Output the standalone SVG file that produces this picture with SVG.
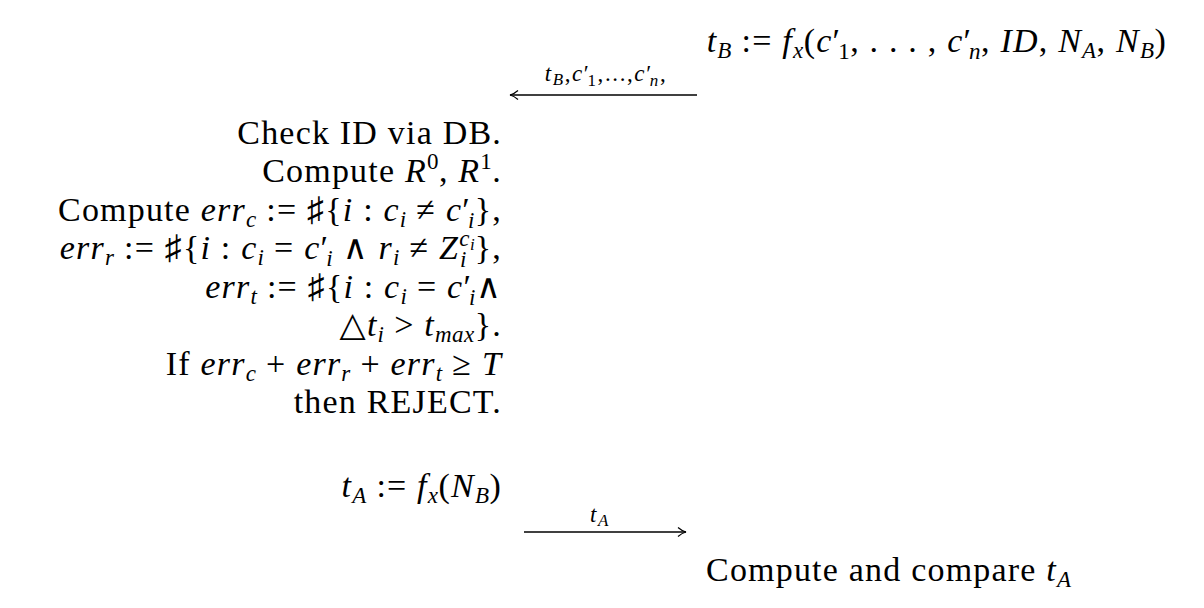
<svg xmlns="http://www.w3.org/2000/svg" width="1204" height="608" viewBox="0 0 1204 608">
<style>
text{font-family:"Liberation Serif","DejaVu Serif",serif;fill:#000;font-size:34px;letter-spacing:1.2px}
.i{font-style:italic}
.s{font-size:23px;letter-spacing:0.5px}
.lb{font-size:23px;letter-spacing:1.6px}
.lbs{font-size:17px}
.conn line{stroke:#000;stroke-width:1.3}
</style>
<defs>
<marker id="ah" markerWidth="12" markerHeight="12" refX="10" refY="6" orient="auto" markerUnits="userSpaceOnUse">
<path d="M2,1.5 Q6,5 10,6 Q6,7 2,10.5" fill="none" stroke="#000" stroke-width="1.2"/>
</marker>
</defs>
<rect width="1204" height="608" fill="#fff"/>

<g id="bob-compute-tB">
<text x="1167" y="52" text-anchor="end"><tspan class="i">t</tspan><tspan class="s i" dy="6">B</tspan><tspan dy="-6"> := </tspan><tspan class="i">f</tspan><tspan class="s i" dy="6">x</tspan><tspan dy="-6">(</tspan><tspan class="i">c</tspan><tspan>′</tspan><tspan class="s" dx="-3" dy="7">1</tspan><tspan dy="-7">, . . . , </tspan><tspan class="i">c</tspan><tspan>′</tspan><tspan class="s i" dx="-3" dy="7">n</tspan><tspan dy="-7">, </tspan><tspan class="i">ID</tspan><tspan>, </tspan><tspan class="i">N</tspan><tspan class="s i" dy="6">A</tspan><tspan dy="-6">, </tspan><tspan class="i">N</tspan><tspan class="s i" dy="6">B</tspan><tspan dy="-6">)</tspan></text>
</g>

<g id="msg1-label">
<text class="lb" x="606" y="81" text-anchor="middle"><tspan class="i">t</tspan><tspan class="lbs i" dy="4">B</tspan><tspan dy="-4">,</tspan><tspan class="i">c</tspan><tspan>′</tspan><tspan class="lbs" dx="-3" dy="5">1</tspan><tspan dy="-5">,...,</tspan><tspan class="i">c</tspan><tspan>′</tspan><tspan class="lbs i" dx="-3" dy="5">n</tspan><tspan dy="-5">,</tspan></text>
</g>

<g id="alice-checks">
<text x="502" y="144" text-anchor="end">Check ID via DB.</text>
<text x="502" y="182" text-anchor="end">Compute <tspan class="i">R</tspan><tspan class="s" dy="-13">0</tspan><tspan dy="13">, </tspan><tspan class="i">R</tspan><tspan class="s" dy="-13">1</tspan><tspan dy="13">.</tspan></text>
<text x="502" y="221" text-anchor="end">Compute <tspan class="i">err</tspan><tspan class="s i" dy="6">c</tspan><tspan dy="-6"> := ♯{</tspan><tspan class="i">i</tspan><tspan> : </tspan><tspan class="i">c</tspan><tspan class="s i" dy="6">i</tspan><tspan dy="-6"> ≠ </tspan><tspan class="i">c</tspan><tspan>′</tspan><tspan class="s i" dx="-3" dy="7">i</tspan><tspan dy="-7">},</tspan></text>
<text x="502" y="259" text-anchor="end"><tspan class="i">err</tspan><tspan class="s i" dy="6">r</tspan><tspan dy="-6"> := ♯{</tspan><tspan class="i">i</tspan><tspan> : </tspan><tspan class="i">c</tspan><tspan class="s i" dy="6">i</tspan><tspan dy="-6"> = </tspan><tspan class="i">c</tspan><tspan>′</tspan><tspan class="s i" dx="-3" dy="7">i</tspan><tspan dy="-7"> ∧ </tspan><tspan class="i">r</tspan><tspan class="s i" dy="6">i</tspan><tspan dy="-6"> ≠ </tspan><tspan class="i">Z</tspan><tspan class="s i" dy="-13">c</tspan><tspan class="lbs i" dy="4">i</tspan><tspan class="s i" dx="-16" dy="17">i</tspan><tspan dx="8" dy="-8">},</tspan></text>
<text x="502" y="298" text-anchor="end"><tspan class="i">err</tspan><tspan class="s i" dy="6">t</tspan><tspan dy="-6"> := ♯{</tspan><tspan class="i">i</tspan><tspan> : </tspan><tspan class="i">c</tspan><tspan class="s i" dy="6">i</tspan><tspan dy="-6"> = </tspan><tspan class="i">c</tspan><tspan>′</tspan><tspan class="s i" dx="-3" dy="7">i</tspan><tspan dy="-7">∧</tspan></text>
<text x="502" y="336" text-anchor="end">△<tspan class="i">t</tspan><tspan class="s i" dy="6">i</tspan><tspan dy="-6"> &gt; </tspan><tspan class="i">t</tspan><tspan class="s i" dy="6">max</tspan><tspan dy="-6">}.</tspan></text>
<text x="502" y="375" text-anchor="end">If <tspan class="i">err</tspan><tspan class="s i" dy="6">c</tspan><tspan dy="-6"> + </tspan><tspan class="i">err</tspan><tspan class="s i" dy="6">r</tspan><tspan dy="-6"> + </tspan><tspan class="i">err</tspan><tspan class="s i" dy="6">t</tspan><tspan dy="-6"> ≥ </tspan><tspan class="i">T</tspan></text>
<text x="502" y="413" text-anchor="end">then REJECT.</text>
</g>

<g id="alice-compute-tA">
<text x="502" y="497" text-anchor="end"><tspan class="i">t</tspan><tspan class="s i" dy="6">A</tspan><tspan dy="-6"> := </tspan><tspan class="i">f</tspan><tspan class="s i" dy="6">x</tspan><tspan dy="-6">(</tspan><tspan class="i">N</tspan><tspan class="s i" dy="6">B</tspan><tspan dy="-6">)</tspan></text>
</g>

<g id="msg2-label">
<text class="lb" x="600" y="522" text-anchor="middle"><tspan class="i">t</tspan><tspan class="lbs i" dy="4">A</tspan></text>
</g>

<g id="bob-compare">
<text x="706" y="581">Compute and compare <tspan class="i">t</tspan><tspan class="s i" dy="6">A</tspan></text>
</g>

<g class="conn" id="connectors">
<line x1="697" y1="95" x2="510" y2="95" marker-end="url(#ah)"/>
<line x1="524" y1="532" x2="686" y2="532" marker-end="url(#ah)"/>
</g>
</svg>
